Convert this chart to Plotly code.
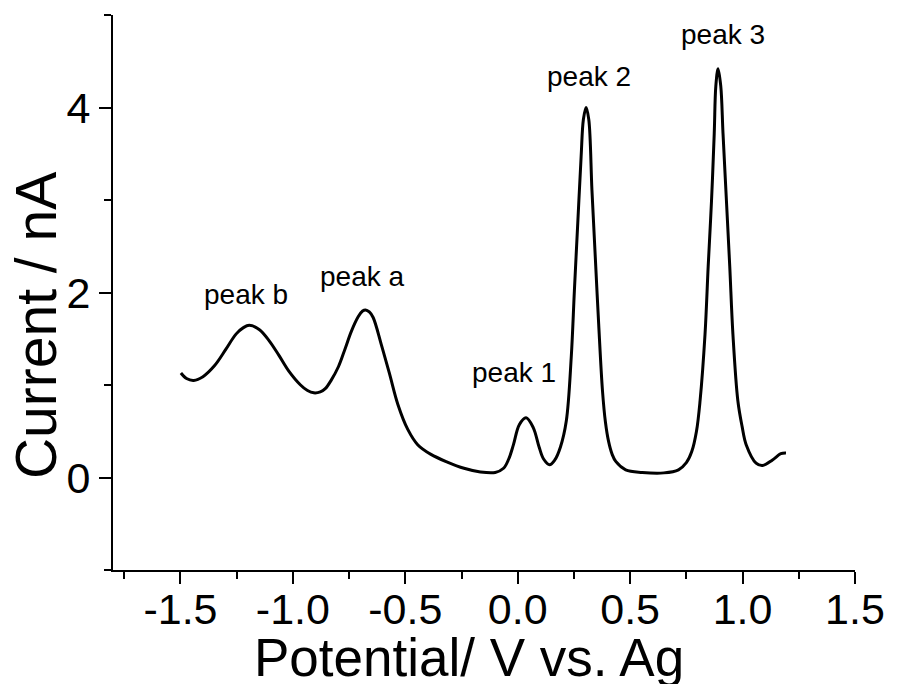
import plotly.graph_objects as go

# Differential pulse voltammogram: potential (V vs. Ag) and current (nA)
potential = [
    -1.498, -1.473, -1.441, -1.400, -1.348, -1.297, -1.253, -1.220, -1.194, -1.150,
    -1.106, -1.062, -1.018, -0.966, -0.935, -0.907, -0.878, -0.856, -0.830, -0.797,
    -0.768, -0.740, -0.709, -0.690, -0.677, -0.660, -0.643, -0.607, -0.570, -0.533,
    -0.489, -0.445, -0.386, -0.313, -0.239, -0.166, -0.100, -0.063, -0.040, -0.019,
    0.007, 0.037, 0.069, 0.095, 0.115, 0.142, 0.165, 0.190, 0.216, 0.238,
    0.252, 0.267, 0.282, 0.292, 0.304, 0.316, 0.330, 0.345, 0.360, 0.377,
    0.390, 0.404, 0.420, 0.436, 0.480, 0.554, 0.650, 0.715, 0.750, 0.774,
    0.795, 0.811, 0.833, 0.847, 0.862, 0.874, 0.881, 0.891, 0.903, 0.913,
    0.928, 0.943, 0.957, 0.979, 0.998, 1.016, 1.060, 1.089, 1.133, 1.170,
    1.193,
]
current = [
    1.13, 1.07, 1.05, 1.09, 1.21, 1.39, 1.55, 1.62, 1.645, 1.60,
    1.48, 1.32, 1.15, 1.00, 0.94, 0.915, 0.925, 0.96, 1.05, 1.20,
    1.39, 1.58, 1.74, 1.80, 1.812, 1.79, 1.73, 1.44, 1.12, 0.79,
    0.52, 0.355, 0.25, 0.167, 0.10, 0.06, 0.055, 0.10, 0.20, 0.355,
    0.57, 0.645, 0.54, 0.33, 0.20, 0.138, 0.19, 0.33, 0.61, 1.30,
    2.02, 2.75, 3.47, 3.87, 4.00, 3.87, 3.11, 2.38, 1.66, 0.935,
    0.60, 0.39, 0.25, 0.174, 0.083, 0.055, 0.05, 0.083, 0.16, 0.28,
    0.50, 0.83, 1.55, 2.28, 3.00, 3.72, 4.23, 4.42, 4.23, 3.72,
    3.00, 2.28, 1.55, 0.83, 0.55, 0.355, 0.156, 0.13, 0.19, 0.257,
    0.264,
]

# Peak labels and where they sit on the axes
peak_labels = ["peak b", "peak a", "peak 1", "peak 2", "peak 3"]
label_x = [-1.207, -0.692, -0.018, 0.317, 0.912]
label_y = [1.98, 2.17, 1.13, 4.34, 4.79]

x_ticks = [-1.5, -1.0, -0.5, 0.0, 0.5, 1.0, 1.5]
y_ticks = [0, 2, 4]

x_title = "Potential/ V vs. Ag"
y_title = "Current / nA"

FONT = "Arial, Liberation Sans, sans-serif"

fig = go.Figure(
    go.Scatter(
        x=potential,
        y=current,
        mode="lines",
        line=dict(color="black", width=3, shape="spline", smoothing=1.0),
        showlegend=False,
        hoverinfo="skip",
    )
)

for text, xv, yv in zip(peak_labels, label_x, label_y):
    fig.add_annotation(
        x=xv, y=yv, xref="x", yref="y", text=text, showarrow=False,
        font=dict(family=FONT, size=28, color="black"),
    )

# Axis titles, placed as paper-anchored text
fig.add_annotation(
    x=0.48, y=-0.158, xref="paper", yref="paper", text=x_title, showarrow=False,
    xanchor="center", yanchor="middle",
    font=dict(family=FONT, size=53, color="black"),
)
fig.add_annotation(
    x=-0.104, y=0.441, xref="paper", yref="paper", text=y_title, showarrow=False,
    xanchor="center", yanchor="middle", textangle=-90,
    font=dict(family=FONT, size=57, color="black"),
)

axis_common = dict(
    showgrid=False,
    zeroline=False,
    showline=True,
    linecolor="black",
    linewidth=2,
    ticks="outside",
    tickcolor="black",
    tickwidth=2,
    ticklen=12,
    tickfont=dict(family=FONT, size=43, color="black"),
)

fig.update_xaxes(
    range=[-1.8, 1.5],
    tickvals=x_ticks,
    ticktext=[f"{v:.1f}" for v in x_ticks],
    ticklabelstandoff=-12,
    minor=dict(ticks="outside", dtick=0.25, tick0=0, ticklen=7, tickwidth=2, tickcolor="black"),
    **axis_common,
)
fig.update_yaxes(
    range=[-1, 5],
    tickvals=y_ticks,
    minor=dict(ticks="outside", dtick=1, tick0=0, ticklen=7, tickwidth=2, tickcolor="black"),
    **axis_common,
)

fig.update_layout(
    width=897,
    height=684,
    margin=dict(l=113, r=35, t=15, b=114),
    plot_bgcolor="white",
    paper_bgcolor="white",
)

fig.write_html("out.html")
